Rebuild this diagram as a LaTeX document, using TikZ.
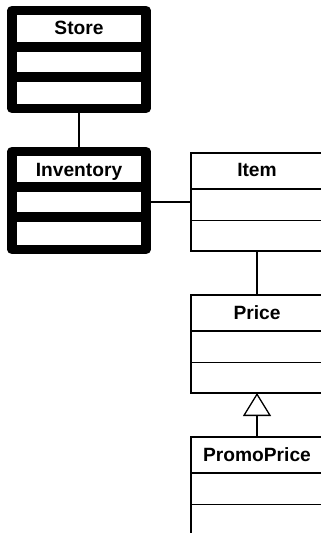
\documentclass[tikz,border=0pt]{standalone}
\usepackage{fontspec}
\setmainfont{Liberation Sans}
\usetikzlibrary{arrows.meta,calc}
\begin{document}
\begin{tikzpicture}[x=1pt,y=-1pt,
  heavybox/.style={draw=black, line width=9.5pt, line join=round, fill=white,
    minimum width=134pt, minimum height=98pt, inner sep=0pt, outer sep=0pt},
  lightbox/.style={draw=black, line width=1.6pt, fill=white,
    minimum width=132pt, minimum height=98pt, inner sep=0pt, outer sep=0pt},
  heavysep/.style={line width=9.5pt},
  lightsep/.style={line width=1.6pt},
  title/.style={anchor=base, inner sep=0pt, font=\fontsize{19.2}{21}\selectfont\bfseries},
  link/.style={line width=1.3pt},
  inherit/.style={line width=1.3pt, -{Triangle[open, length=23pt, width=28pt]}}
]
\clip (0,0) rectangle (321,533);
\fill[white] (0,0) rectangle (321,533);

% Store and Inventory (heavy frames)
\node[heavybox] (store) at (79,59.5) {};
\node[heavybox] (inventory) at (79,200.5) {};
\foreach \b/\a/\c in {store/36.5/66.5, inventory/35.5/65.5} {
  \draw[heavysep] ($(\b.north west)+(0,\a)$) -- ($(\b.north east)+(0,\a)$);
  \draw[heavysep] ($(\b.north west)+(0,\c)$) -- ($(\b.north east)+(0,\c)$);
}
\node[title] (storeT) at ($(store.north)+(0,23.9)$) {Store};
\node[title] (inventoryT) at ($(inventory.north)+(0,25.4)$) {Inventory};

% Item, Price, PromoPrice (light frames)
\node[lightbox] (item) at (257,202) {};
\node[lightbox] (price) at (257,344) {};
\node[lightbox] (promo) at (257,486) {};
\foreach \b in {item, price, promo} {
  \draw[lightsep] ($(\b.north west)+(0,36)$) -- ($(\b.north east)+(0,36)$);
  \draw[lightsep] ($(\b.north west)+(0,67.5)$) -- ($(\b.north east)+(0,67.5)$);
}
\node[title] (itemT) at ($(item.north)+(0,23.8)$) {Item};
\node[title] (priceT) at ($(price.north)+(0,24.3)$) {Price};
\node[title] (promoT) at ($(promo.north)+(0,24.7)$) {PromoPrice};

% Connectors
\draw[link] (store.south) -- (inventory.north);
\draw[link] (inventory.east |- item.west) -- (item.west);
\draw[link] (item.south) -- (price.north);
\draw[inherit] (promo.north) -- (price.south);
\end{tikzpicture}
\end{document}
